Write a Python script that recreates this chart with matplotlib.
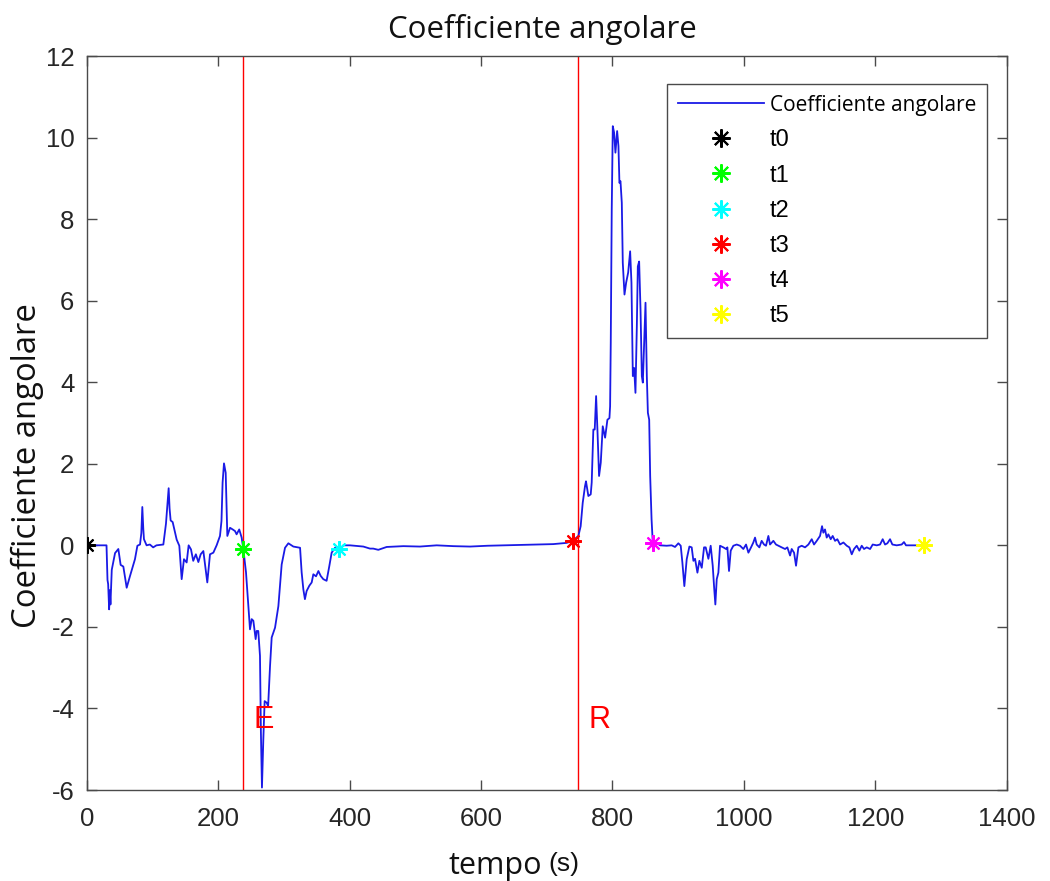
import matplotlib
matplotlib.use("Agg")
import matplotlib.pyplot as plt

plt.rcParams["axes.unicode_minus"] = False

# ---- data ----
tempo = [0, 30, 31.5, 32.5, 34, 35, 36, 38, 43, 48, 51.5, 55.6, 60.7, 65.8, 73.3, 77, 81, 83, 84.5, 86, 87, 91, 96, 101, 106,
         116.5, 120.5, 124.6, 126, 127.6, 130.7, 136.8, 140.8, 144.4, 147.9, 152, 155, 158.6, 162, 166, 169.8, 173.3, 177.4,
         183.4, 187.5, 192.6, 197.6, 202.7, 205, 206.7, 208.8, 211.4, 213.9, 218, 222, 225.6, 228, 232, 235.7, 238.2, 242.3,
         244.8, 248.4, 251, 253.5, 257, 258.6, 261, 263.6, 265, 266.6, 268.7, 270.7, 273.8, 276, 278.9, 281.4, 286.5, 291.6,
         296.6, 301.7, 306.8, 314.4, 324.6, 327, 329.6, 332, 334.6, 338.7, 342.3, 344.8, 348.9, 352.5, 356, 360, 365, 369,
         372.7, 377.8, 384.4, 390.5, 400.6, 420.9, 431, 436, 443.7, 456.4, 481.8, 507, 532.5, 558, 583.3, 610, 634, 660, 684.7,
         710, 730.4, 739.5, 748.2, 751.7, 754.8, 758.3, 759.8, 763.4, 767, 768.5, 771, 773.1, 775.2, 777.2, 779.7, 782.3,
         785.3, 788.9, 792.4, 795.5, 796.5, 797.5, 799, 800.6, 802.6, 804.6, 807.2, 809.2, 810.7, 812.3, 814.3, 815.8, 818.4,
         820.9, 824, 827, 829, 831.1, 833.1, 835.1, 837.2, 838.7, 840.7, 842.8, 844.8, 846.3, 848.4, 850.4, 852.4, 854, 856,
         857.5, 859.6, 861.5, 867.7, 872.5, 882.6, 890.2, 895.3, 900.4, 904, 906.5, 909.5, 913.1, 917.2, 920.7, 923.3, 925.8,
         929.4, 932.4, 936, 939.5, 942, 946.1, 949.6, 952.7, 954.7, 956.7, 958.8, 961.3, 963.8, 968.9, 973, 975, 977.5,
         980.1, 984.1, 989.2, 994.3, 999.3, 1003.4, 1007, 1011, 1014.5, 1017.1, 1019.6, 1023.7, 1027.2, 1030.8, 1033.8,
         1037.4, 1039.9, 1045, 1049, 1052.6, 1057.7, 1062.8, 1066.3, 1070.4, 1072.9, 1076.5, 1079.5, 1083.1, 1088.1, 1093.2,
         1098.3, 1103.4, 1106.9, 1111, 1116, 1119.1, 1121.1, 1123.6, 1126.2, 1128.7, 1132.3, 1135.3, 1138.9, 1142.4, 1146.5,
         1151.6, 1156.7, 1160.7, 1164.3, 1167.8, 1171.9, 1175.9, 1179.5, 1183, 1187.1, 1192.2, 1196.2, 1202.3, 1207.4,
         1211.4, 1215, 1218.5, 1222.6, 1226.1, 1232.7, 1240.3, 1243.8, 1246.9, 1262, 1272]
coeff = [0, 0, -0.85, -0.95, -1.57, -1.1, -1.45, -0.6, -0.19, -0.09, -0.48, -0.52, -1.04, -0.75, -0.34, -0.01, 0.02, 0.3,
         0.94, 0.4, 0.15, 0, 0.02, -0.05, 0,
         0.02, 0.53, 1.40, 0.9, 0.61, 0.57, 0.14, -0.01, -0.83, -0.34, -0.42, 0, -0.1, -0.38, -0.22, -0.41, -0.22, -0.14,
         -0.91, -0.22, -0.18, 0, 0.23, 0.6, 1.54, 2.01, 1.78, 0.23, 0.43, 0.39, 0.35, 0.27, 0.39, 0.19, -0.09, -0.66,
         -1.24, -2.06, -1.81, -1.85, -2.3, -2.1, -2.1, -2.71, -4.59, -5.94, -4.75, -3.82, -3.86, -3.94, -2.96, -2.26, -2.02, -1.49,
         -0.47, -0.06, 0.05, -0.03, -0.06, -0.66, -1.08, -1.32, -1.12, -0.99, -0.91, -0.71, -0.76, -0.63, -0.75, -0.83, -0.87, -0.52,
         -0.18, -0.06, -0.1, 0, 0, -0.03, -0.08, -0.08, -0.11, -0.04, -0.02, -0.03, 0, -0.02, -0.03, -0.01, 0, 0.01, 0.02,
         0.03, 0.06, 0.11, 0.23, 0.47, 1.04, 1.45, 1.57, 1.21, 1.25, 1.54, 2.84, 2.84, 3.66, 2.84, 1.70, 2.03,
         2.92, 2.64, 3.08, 3.12, 3.41, 4.97, 8.24, 10.28, 10.12, 9.63, 10.16, 9.79, 8.89, 8.93, 8.40, 6.93, 6.15,
         6.44, 6.69, 7.21, 6.44, 4.15, 4.35, 3.74, 5.38, 6.84, 6.96, 5.78, 4.15, 3.99, 4.97, 5.95, 4.15, 3.25, 3.08,
         1.70, 0.64, 0.05, 0.06, 0, -0.01, 0, -0.04, 0.05, -0.01, -0.42, -1.0, -0.34, -0.03, -0.05, -0.38, -0.33,
         -0.67, -0.38, -0.55, -0.05, -0.05, -0.33, -0.01, -0.5, -1.0, -1.45, -0.83, -0.67, -0.01, -0.05, -0.09, -0.05, -0.63,
         -0.13, -0.01, 0.02, -0.01, -0.09, 0.02, -0.18, -0.05, 0.07, 0.19, 0.02, -0.05, 0.11, 0.02, -0.01,
         0.23, 0.02, 0.11, 0.02, -0.01, -0.05, -0.09, -0.05, -0.25, -0.09, -0.18, -0.5, -0.05, -0.01, -0.05,
         0.02, 0.15, 0.02, 0.11, 0.23, 0.47, 0.31, 0.39, 0.19, 0.27, 0.15, 0.23, 0.11, 0.15, 0.02,
         0.07, -0.01, -0.05, -0.22, -0.09, -0.01, -0.13, -0.01, -0.09, -0.05, -0.09, 0.02, 0, 0.02,
         0.15, 0.02, 0.05, 0.15, 0.02, 0, 0.02, 0.08, 0, 0, 0]

event_labels = ["t0", "t1", "t2", "t3", "t4", "t5"]
event_t = [1, 238, 384, 739.5, 861.5, 1274]
event_y = [0, -0.09, -0.1, 0.11, 0.05, 0]
event_colors = ["#000000", "#00ff00", "#00ffff", "#ff0000", "#ff00ff", "#ffff00"]

vline_t = [238, 748]
vline_labels = ["E", "R"]
vline_label_t = [254, 763]
vline_label_y = -4.49

xticks = [0, 200, 400, 600, 800, 1000, 1200, 1400]
yticks = [-6, -4, -2, 0, 2, 4, 6, 8, 10, 12]

# ---- figure ----
W, H = 1050, 881
fig = plt.figure(figsize=(W / 100, H / 100), dpi=100)
ax = fig.add_axes([86.8 / W, 1 - 790 / H, 919.8 / W, 734 / H])

axcol = "#4a4a4a"
ax.plot(tempo, coeff, color="#1a1ae6", lw=1.3, label="Coefficiente angolare", zorder=3)
for t in vline_t:
    ax.axvline(t, color="#ff0000", lw=1.0, zorder=2)
for lab, t in zip(vline_labels, vline_label_t):
    ax.text(t, vline_label_y, lab, color="#ff0000", fontsize=22, family="Liberation Sans",
            ha="left", va="baseline")
for lab, t, y, c in zip(event_labels, event_t, event_y, event_colors):
    ax.plot([t], [y], ls="none", marker=(8, 2, 0), ms=12, mew=1.5, color=c, label=lab, zorder=4)

ax.set_xlim(0, 1400)
ax.set_ylim(-6, 12)
ax.set_xticks(xticks)
ax.set_yticks(yticks)
ax.tick_params(direction="in", length=7, width=1.0, color=axcol, top=True, right=True,
               labelsize=18.5, labelcolor="#262626")
ax.tick_params(axis="x", pad=12)
ax.tick_params(axis="y", pad=9)
for lab in ax.get_xticklabels() + ax.get_yticklabels():
    lab.set_family("Liberation Sans")
for s in ax.spines.values():
    s.set_color(axcol)
    s.set_linewidth(1.0)

ax.set_title("Coefficiente angolare", family="Open Sans", fontsize=22.5, color="#111111",
             x=(542.5 - 86.8) / 919.8, y=(790 - 38) / 734, pad=0, va="baseline")
ax.set_ylabel("Coefficiente angolare", family="Open Sans", fontsize=23.7, color="#111111",
              va="center", ha="center")
ax.yaxis.set_label_coords((27 - 86.8) / 919.8, (790 - 466) / 734)
ax.set_xlabel("tempo", family="Open Sans", fontsize=22, color="#111111", va="baseline")
ax.xaxis.set_label_coords((495.5 - 86.8) / 919.8, (790 - 874) / 734)
ax.text((563.5 - 86.8) / 919.8, (790 - 864) / 734, "(s)", transform=ax.transAxes,
        family="Liberation Sans", fontsize=19, color="#111111", ha="center", va="center")

leg = ax.legend(loc="upper left", bbox_to_anchor=((667.3 - 86.8) / 919.8, (790 - 84) / 734),
                borderaxespad=0, fancybox=False, framealpha=1, edgecolor=axcol,
                prop={"family": "Liberation Sans", "size": 17}, handlelength=3.64,
                handletextpad=0.25, labelspacing=0.56, borderpad=0.45, markerscale=1.1)
leg.get_frame().set_linewidth(1.0)
t0 = leg.get_texts()[0]
t0.set_family("Open Sans")
t0.set_fontsize(15)

fig.savefig("out.png", dpi=100)
